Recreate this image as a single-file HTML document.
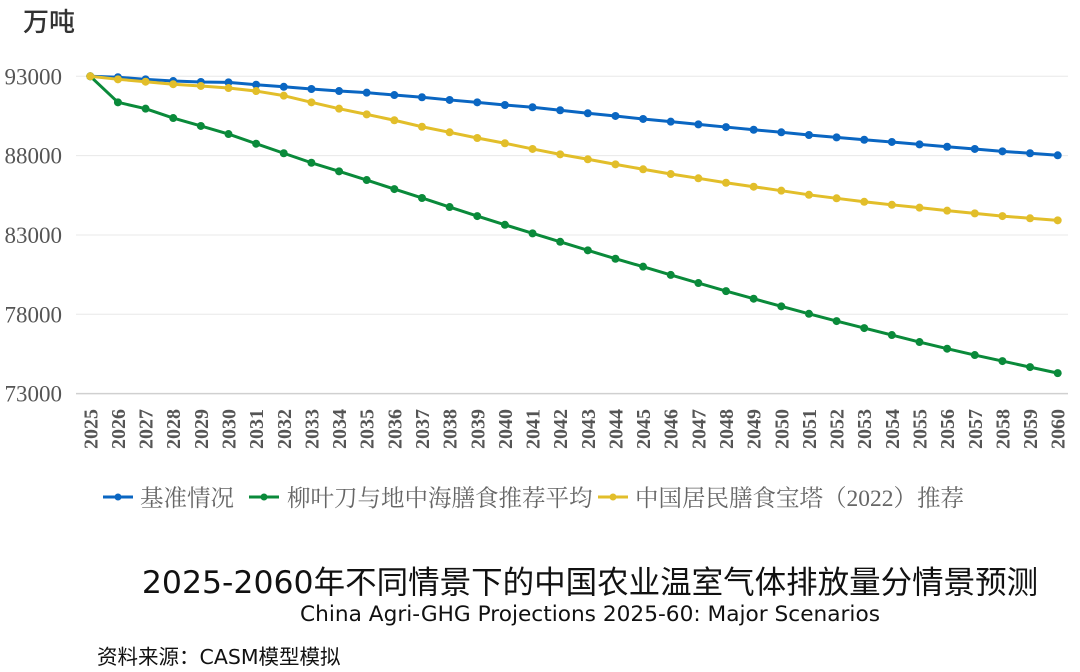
<!DOCTYPE html>
<html><head><meta charset="utf-8">
<style>
body{margin:0;background:#fff;width:1080px;height:672px;overflow:hidden;}
svg{display:block}
</style></head>
<body>
<svg id="chart" width="1080" height="672" xmlns="http://www.w3.org/2000/svg">
<text x="23" y="31" font-family="'Liberation Sans','Noto Sans CJK SC',sans-serif" font-size="26" font-weight="500" fill="#333">万吨</text>
<g id="grid"></g><g id="ylabels"></g><g id="xlabels"></g><g id="series"></g>
<g font-family="'Liberation Serif','Noto Serif CJK SC',serif" font-size="23.5" fill="#666">
 <g><line x1="103" y1="497" x2="133" y2="497" stroke="#0A66C2" stroke-width="3"/><circle cx="118" cy="497" r="3.5" fill="#0A66C2"/><text x="140" y="506">基准情况</text></g>
 <g><line x1="249" y1="497" x2="279" y2="497" stroke="#0A8A3A" stroke-width="3"/><circle cx="264" cy="497" r="3.5" fill="#0A8A3A"/><text x="287" y="506">柳叶刀与地中海膳食推荐平均</text></g>
 <g><line x1="598" y1="497" x2="628" y2="497" stroke="#E2BE2A" stroke-width="3"/><circle cx="613" cy="497" r="3.5" fill="#E2BE2A"/><text x="635" y="506">中国居民膳食宝塔（2022）推荐</text></g>
</g>
<text x="590" y="593" text-anchor="middle" font-family="'DejaVu Sans','Noto Sans CJK SC',sans-serif" font-size="31.5" fill="#111">2025-2060年不同情景下的中国农业温室气体排放量分情景预测</text>
<text x="590" y="621" text-anchor="middle" font-family="'DejaVu Sans',sans-serif" font-size="21" fill="#111" textLength="580" lengthAdjust="spacingAndGlyphs">China Agri-GHG Projections 2025-60: Major Scenarios</text>
<text x="97" y="664" font-family="'DejaVu Sans','Noto Sans CJK SC',sans-serif" font-size="20.5" fill="#111">资料来源：CASM模型模拟</text>
</svg>
<script>
const years=[];for(let y=2025;y<=2060;y++)years.push(y);
const yTicks=[73000,78000,83000,88000,93000];
const baseline=[93000,92940,92810,92700,92640,92620,92470,92340,92200,92070,91970,91820,91680,91510,91360,91190,91050,90860,90670,90500,90310,90140,89970,89800,89630,89470,89300,89150,89000,88860,88710,88560,88420,88270,88150,88020];
const medDiet=[93000,91360,90960,90370,89870,89360,88750,88150,87550,87010,86460,85890,85330,84760,84190,83640,83100,82570,82030,81500,81000,80480,79970,79460,78980,78500,78030,77570,77130,76690,76250,75830,75430,75050,74670,74290];
const pagoda=[93000,92810,92660,92500,92390,92260,92070,91780,91360,90960,90600,90230,89820,89470,89110,88780,88420,88080,87770,87450,87140,86840,86570,86290,86040,85790,85530,85310,85090,84900,84720,84530,84360,84190,84050,83920];
const NS="http://www.w3.org/2000/svg";
const x0=90.3,x1=1057.7,yTop=76.3,yBot=393.6,vTop=93000,vBot=73000,left=76,right=1068;
const xs=i=>x0+(x1-x0)*i/(years.length-1);
const ys=v=>yBot+(v-vBot)*(yTop-yBot)/(vTop-vBot);
function mk(t,a,p){const e=document.createElementNS(NS,t);for(const k in a)e.setAttribute(k,a[k]);p.appendChild(e);return e;}
const grid=document.getElementById('grid'),yl=document.getElementById('ylabels'),xl=document.getElementById('xlabels'),se=document.getElementById('series');
yTicks.forEach(v=>{
 const l=mk('line',{x1:left,x2:right,y1:ys(v),y2:ys(v),stroke:v===vBot?'#d0d0d0':'#e8e8e8','stroke-width':v===vBot?1.5:1},grid);
 
 
 const t=mk('text',{x:62,y:ys(v)+8,'text-anchor':'end','font-family':"'Liberation Serif',serif",'font-size':23,fill:'#555'},yl);
 t.textContent=v;
 
 
});
years.forEach((y,i)=>{
 const t=mk('text',{transform:`translate(${xs(i)+7},409) rotate(-90)`,'text-anchor':'end','font-family':"'Liberation Serif',serif",'font-size':20,'font-weight':'bold',fill:'#555'},xl);
 t.textContent=y;
 
 
});
[[baseline,'#0A66C2','baseline'],[medDiet,'#0A8A3A','med-diet'],[pagoda,'#E2BE2A','china-pagoda']].forEach(([d,c,n])=>{
 const g=mk('g',{},se);
 
 
 const p=mk('polyline',{points:d.map((v,i)=>xs(i)+','+ys(v)).join(' '),fill:'none',stroke:c,'stroke-width':3,'stroke-linejoin':'round'},g);
 
 
 d.forEach((v,i)=>{
  const ci=mk('circle',{cx:xs(i),cy:ys(v),r:4,fill:c},g);
  
  
 });
});
</script>
</body></html>
